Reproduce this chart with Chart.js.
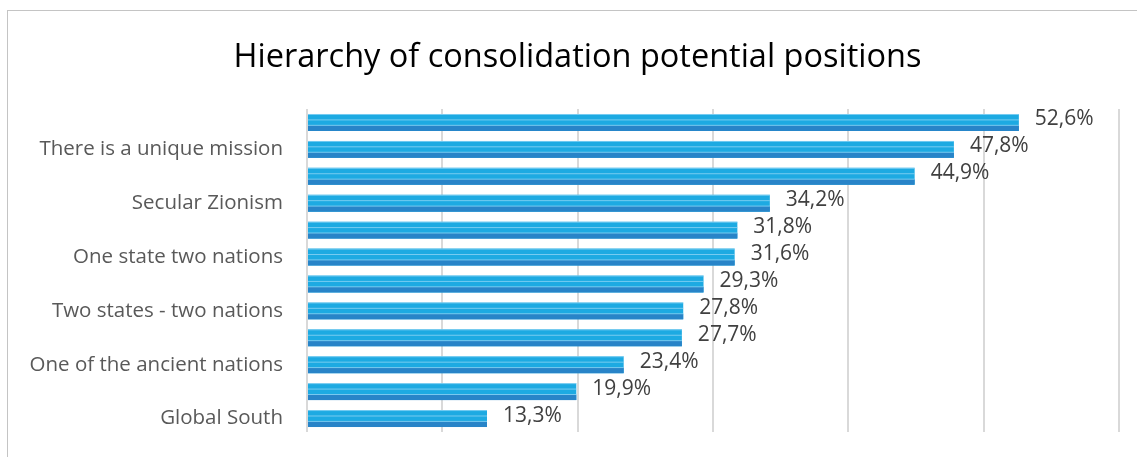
<!DOCTYPE html>
<html>
<head>
<meta charset="utf-8">
<script src="https://cdn.jsdelivr.net/npm/chart.js@4"></script>
<style>
  body { margin: 0; background: #fff; }
  #frame { position: absolute; left: 7px; top: 10px; width: 1200px; height: 500px;
           border-left: 1px solid #c4c4c4; border-top: 1px solid #c4c4c4; }
  #wrap { position: absolute; left: 0; top: 0; width: 1137px; height: 457px; }
</style>
</head>
<body>
<div id="frame"></div>
<div id="wrap"><canvas id="chart"></canvas></div>
<script>
// categories top to bottom; Excel skipped every other label, those are left blank
const categories = [
  "", "There is a unique mission", "", "Secular Zionism", "", "One state two nations",
  "", "Two states - two nations", "", "One of the ancient nations", "", "Global South"
];
const values = [52.6, 47.8, 44.9, 34.2, 31.8, 31.6, 29.3, 27.8, 27.7, 23.4, 19.9, 13.3];
const xTicks = [0, 10, 20, 30, 40, 50, 60];

const FONT = "'Open Sans', 'Noto Sans', sans-serif";

// two-tone look of the excel bars: darker bottom third, thin light lines
const barStripes = {
  id: "barStripes",
  afterDatasetDraw(chart, args) {
    const ctx = chart.ctx;
    args.meta.data.forEach((el) => {
      const p = el.getProps(["x", "y", "base", "height"], true);
      const left = Math.min(p.x, p.base);
      const w = Math.abs(p.x - p.base);
      const top = p.y - p.height / 2;
      const h = p.height;
      ctx.save();
      ctx.fillStyle = "#2884c8";
      ctx.fillRect(left, top + h * 0.68, w, h * 0.32);
      ctx.fillStyle = "rgba(150,215,245,0.75)";
      ctx.fillRect(left, top, w, 1);
      ctx.fillRect(left, top + h * 0.32, w, 1);
      ctx.fillRect(left, top + h * 0.64, w, 1);
      ctx.restore();
    });
  }
};

// value labels to the right of each bar, comma decimals
const valueLabels = {
  id: "valueLabels",
  afterDatasetsDraw(chart) {
    const ctx = chart.ctx;
    const meta = chart.getDatasetMeta(0);
    ctx.save();
    ctx.font = "21px " + FONT;
    ctx.fillStyle = "#404040";
    ctx.textAlign = "left";
    ctx.textBaseline = "middle";
    meta.data.forEach((el, i) => {
      const txt = values[i].toFixed(1).replace(".", ",") + "%";
      ctx.fillText(txt, el.x + 16, el.y - 3);
    });
    ctx.restore();
  }
};

// title in the excel chart is centred a bit right of the canvas middle
const shiftTitle = {
  id: "shiftTitle",
  afterLayout(chart) {
    if (chart.titleBlock) chart.titleBlock.left += 36;
  }
};

new Chart(document.getElementById("chart"), {
  type: "bar",
  data: {
    labels: categories,
    datasets: [{
      data: values,
      backgroundColor: "#1daae2",
      borderWidth: 0,
      barPercentage: 0.63,
      categoryPercentage: 1
    }]
  },
  options: {
    indexAxis: "y",
    responsive: true,
    maintainAspectRatio: false,
    animation: false,
    layout: { padding: { left: 0, right: 18, top: 0, bottom: 25 } },
    plugins: {
      legend: { display: false },
      tooltip: { enabled: false },
      title: {
        display: true,
        text: "Hierarchy of consolidation potential positions",
        color: "#000",
        font: { family: FONT, size: 32.5, weight: "normal" },
        padding: { top: 38, bottom: 32 }
      }
    },
    scales: {
      x: {
        min: xTicks[0],
        max: xTicks[xTicks.length - 1],
        afterBuildTicks: (scale) => { scale.ticks = xTicks.map((v) => ({ value: v })); },
        ticks: { display: false },
        grid: { color: "#d9d9d9", lineWidth: 2, drawTicks: false },
        border: { display: false }
      },
      y: {
        afterFit: (scale) => {
          scale.width = 307;
          scale.paddingTop = 0;
          scale.paddingBottom = 0;
        },
        ticks: {
          autoSkip: false,
          color: "#595959",
          font: { family: FONT, size: 20.5 },
          padding: 16
        },
        grid: { display: false },
        border: { display: false }
      }
    }
  },
  plugins: [barStripes, valueLabels, shiftTitle]
});
</script>
</body>
</html>
